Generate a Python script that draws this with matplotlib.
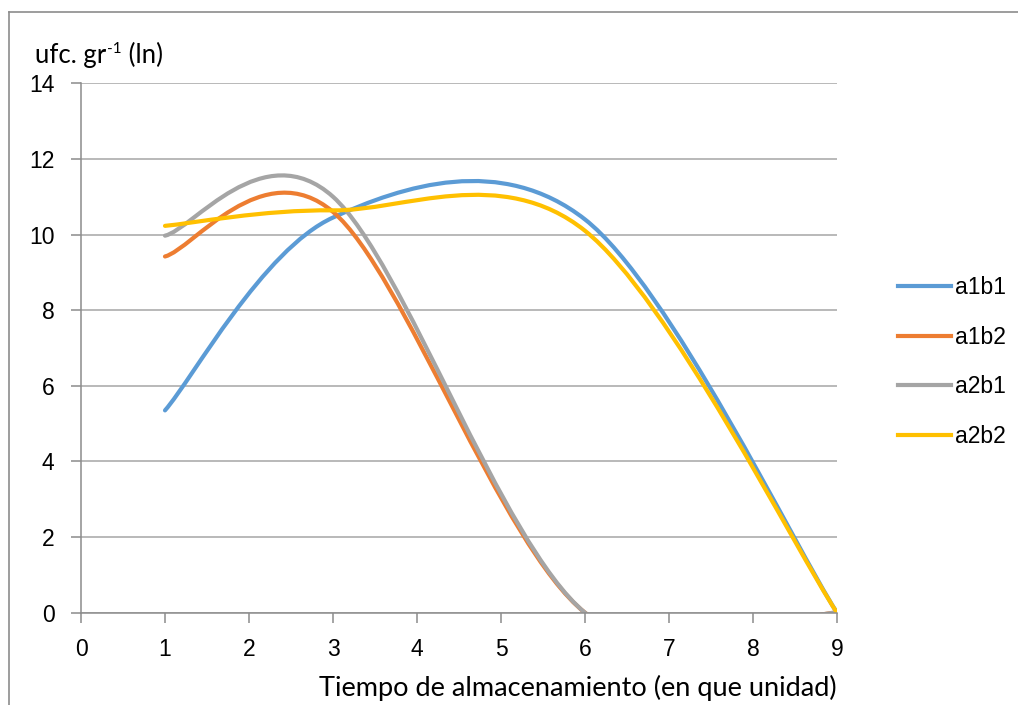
import matplotlib
matplotlib.use("Agg")
import matplotlib.pyplot as plt
from matplotlib.path import Path
from matplotlib.patches import PathPatch
from matplotlib.lines import Line2D

# Datos
tiempo = [1, 3, 6, 9]
a1b1 = [5.35, 10.45, 10.4, 0.0]
a1b2 = [9.42, 10.6, 0.0, 0.0]
a2b1 = [9.97, 11.0, 0.0, 0.0]
a2b2 = [10.23, 10.64, 10.1, 0.0]

series = {"a1b1": a1b1, "a1b2": a1b2, "a2b1": a2b1, "a2b2": a2b2}
colores = {"a1b1": "#5B9BD5", "a1b2": "#ED7D31", "a2b1": "#A5A5A5", "a2b2": "#FFC000"}

yticks = list(range(0, 15, 2))
xticks = list(range(0, 10))


def curva_suave(xs, ys, k=1 / 6):
    # linea suavizada tipo Excel: segmentos Bezier cubicos
    pts = list(zip(xs, ys))
    n = len(pts)
    verts = [pts[0]]
    codes = [Path.MOVETO]
    for i in range(n - 1):
        p0 = pts[max(i - 1, 0)]
        p1 = pts[i]
        p2 = pts[i + 1]
        p3 = pts[min(i + 2, n - 1)]
        c1 = (p1[0] + (p2[0] - p0[0]) * k, p1[1] + (p2[1] - p0[1]) * k)
        c2 = (p2[0] - (p3[0] - p1[0]) * k, p2[1] - (p3[1] - p1[1]) * k)
        verts += [c1, c2, p2]
        codes += [Path.CURVE4] * 3
    return Path(verts, codes)


plt.rcParams["font.family"] = ["Liberation Sans", "DejaVu Sans"]

fig = plt.figure(figsize=(10.18, 7.05), dpi=100)
ax = fig.add_axes([81 / 1018, 1 - 612.7 / 705, 756 / 1018, (612.7 - 83.3) / 705])

for nombre, valores in series.items():
    patch = PathPatch(curva_suave(tiempo, valores), facecolor="none",
                      edgecolor=colores[nombre], lw=3, capstyle="round")
    ax.add_patch(patch)

ax.set_xlim(0, 9)
ax.set_ylim(0, 14)
ax.set_xticks(xticks)
ax.set_yticks(yticks)
ax.grid(axis="y", color="#A6A6A6", lw=1.1)
ax.set_axisbelow(True)
for s in ["top", "right"]:
    ax.spines[s].set_visible(False)
for s in ["left", "bottom"]:
    ax.spines[s].set_color("#8C8C8C")
    ax.spines[s].set_linewidth(1.1)
ax.tick_params(axis="both", colors="#8C8C8C", length=7, width=1.1,
               labelsize=16.5, labelcolor="black")
ax.tick_params(axis="y", pad=12)
ax.tick_params(axis="x", pad=11)

# titulo del eje y con superindice
base = 1 - 63 / 705
t1 = fig.text(35 / 1018, base, "ufc. gr", fontsize=18.5,
              family="Lato", va="baseline", ha="left")
t2 = ax.annotate("-1", xy=(1, base), xycoords=(t1, "figure fraction"),
                 xytext=(0.5, 7), textcoords="offset points", fontsize=11,
                 family="Lato", va="baseline", ha="left", annotation_clip=False)
ax.annotate(" (ln)", xy=(1, base), xycoords=(t2, "figure fraction"),
            xytext=(0, 0), textcoords="offset points", fontsize=18.5,
            family="Lato", va="baseline", ha="left", annotation_clip=False)

fig.text(578 / 1018, 1 - 688 / 705, "Tiempo de almacenamiento (en que unidad)",
         fontsize=19.5, family="Lato", va="center", ha="center")

handles = [Line2D([], [], color=colores[n], lw=3) for n in series]
fig.legend(handles, list(series.keys()), loc="center left",
           bbox_to_anchor=(898 / 1018, 1 - 362 / 705), frameon=False,
           fontsize=16.5, handlelength=2.3, handletextpad=0.2,
           labelspacing=1.15, borderpad=0, borderaxespad=0)

# borde del grafico
fig.add_artist(Line2D([9 / 1018, 9 / 1018], [0, 1 - 12 / 705],
                      color="#8C8C8C", lw=1.2, transform=fig.transFigure))
fig.add_artist(Line2D([9 / 1018, 1], [1 - 12 / 705, 1 - 12 / 705],
                      color="#8C8C8C", lw=1.2, transform=fig.transFigure))

fig.savefig("out.png", dpi=100)
